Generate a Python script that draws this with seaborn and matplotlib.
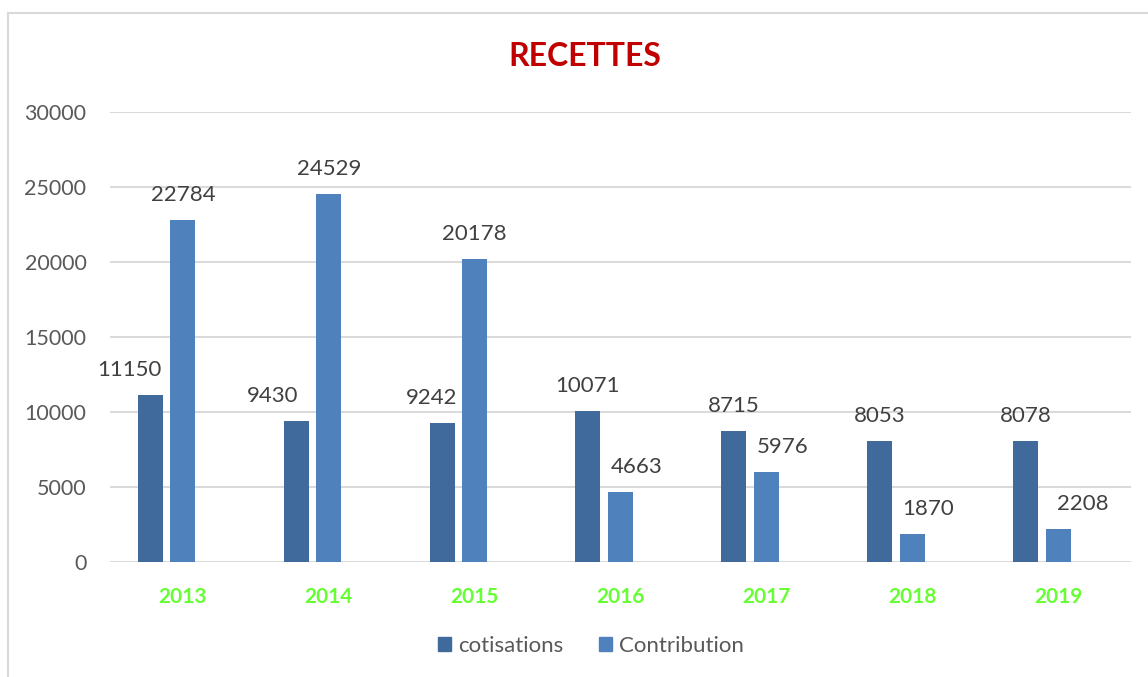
import numpy as np, pandas as pd, matplotlib
matplotlib.use("Agg"); import matplotlib.pyplot as plt
import seaborn as sns
from matplotlib.patches import Patch, Rectangle

sns.set_style("white")
plt.rcParams["font.family"] = ["Lato", "DejaVu Sans"]

annees = ["2013", "2014", "2015", "2016", "2017", "2018", "2019"]
cotisations = [11150, 9430, 9242, 10071, 8715, 8053, 8078]
contribution = [22784, 24529, 20178, 4663, 5976, 1870, 2208]
series = ["cotisations", "Contribution"]

# manual label nudges (pixels), as dragged in the original sheet
dx_cot = [-21, -24, -10, 0, 0, 0, 0]
dx_con = [0, 0, 0, 16, 16, 16, 25]

df = pd.DataFrame({
    "annee": annees * 3,
    "serie": ["cotisations"] * 7 + ["Contribution"] * 7 + ["_vide"] * 7,
    "valeur": cotisations + contribution + [0] * 7,
})

colors = {"cotisations": "#3F6A9B", "Contribution": "#4F81BD", "_vide": "white"}

fig = plt.figure(figsize=(11.48, 6.77), dpi=100)
ax = fig.add_axes([110/1148, 1-562/677, (1131-110)/1148, 450/677])
sns.barplot(data=df, x="annee", y="valeur", hue="serie",
            hue_order=["cotisations", "Contribution", "_vide"], palette=colors,
            saturation=1, width=0.67, gap=0.23, linewidth=0, errorbar=None,
            legend=False, ax=ax)

ax.set_ylim(0, 30000)
ax.set_yticks(range(0, 30001, 5000))
ax.grid(axis="y", color="#D9D9D9", lw=1.4); ax.set_axisbelow(True)
for s in ax.spines.values(): s.set_visible(False)
ax.tick_params(axis="both", length=0)
ax.tick_params(axis="y", labelsize=15.5, labelcolor="#595959", pad=17)
ax.tick_params(axis="x", pad=18)
for t in ax.get_xticklabels():
    t.set_fontsize(15); t.set_fontweight("bold"); t.set_color("#66FF33")
ax.set_xlabel(""); ax.set_ylabel("")
ax.set_xlim(-0.5, 6.5)

for cont, vals, dxs in [(ax.containers[0], cotisations, dx_cot),
                        (ax.containers[1], contribution, dx_con)]:
    for bar, v, dx in zip(cont, vals, dxs):
        ax.annotate(f"{v}", (bar.get_x() + bar.get_width()/2, bar.get_height()),
                    xytext=(dx, 25), textcoords="offset pixels", ha="center", va="center",
                    fontsize=16, color="#404040")

fig.text(585/1148, 1-57/677, "RECETTES", ha="center", va="center",
         fontsize=23, fontweight="bold", color="#C00000")

handles = [Patch(color=colors[s], label=s) for s in series]
fig.legend(handles=handles, loc="center", bbox_to_anchor=(591/1148, 1-646/677),
           ncol=2, frameon=False, fontsize=16, labelcolor="#595959",
           handlelength=0.6, handleheight=0.6, handletextpad=0.3, columnspacing=1.6)

fig.patches.append(Rectangle((8/1148, -0.1), 1.2, 1-13/677+0.1, transform=fig.transFigure,
                             fill=False, edgecolor="#D9D9D9", lw=1.5))

fig.savefig("out.png", dpi=100)
